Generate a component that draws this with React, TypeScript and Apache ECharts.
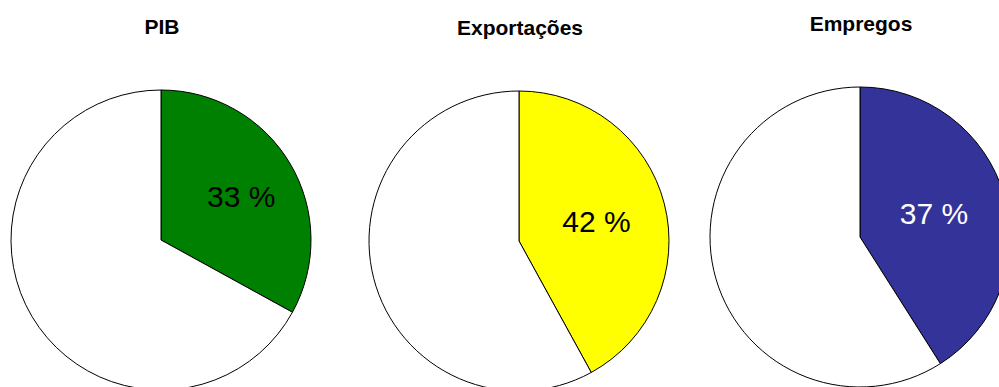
import React, { useEffect, useRef } from "react";
import * as echarts from "echarts";

const titles = ["PIB", "Exportações", "Empregos"];
const shareValues = [33, 42, 41];
const shareLabels = ["33 %", "42 %", "37 %"];
const sliceColors = ["#008000", "#FFFF00", "#333399"];
const labelColors = ["#000000", "#000000", "#FFFFFF"];

const centers: [number, number][] = [
  [161, 240],
  [519, 241],
  [860, 237],
];
const titleYs = [26, 27, 23];
const labelShift = [
  [13, -4],
  [2, 0],
  [-1, -2],
];

export default function App() {
  const ref = useRef<HTMLDivElement>(null);
  useEffect(() => {
    document.body.style.margin = "0";
    const chart = echarts.init(ref.current!, undefined, { renderer: "svg" });
    const font = "'Liberation Sans', Arial, sans-serif";
    const series = shareValues.map((v, i) => ({
      type: "pie",
      center: centers[i],
      radius: 150,
      startAngle: 90,
      clockwise: true,
      silent: true,
      avoidLabelOverlap: false,
      labelLine: { show: false },
      labelLayout: { dx: labelShift[i][0], dy: labelShift[i][1] },
      itemStyle: { borderColor: "#000", borderWidth: 1 },
      emphasis: { disabled: true },
      data: [
        {
          name: titles[i],
          value: v,
          itemStyle: { color: sliceColors[i] },
          label: {
            show: true,
            position: "inside",
            formatter: shareLabels[i],
            fontSize: 30,
            fontFamily: font,
            color: labelColors[i],
          },
        },
        {
          name: "resto",
          value: 100 - v,
          itemStyle: { color: "#FFFFFF" },
          label: { show: false },
        },
      ],
    }));
    chart.setOption({
      animation: false,
      backgroundColor: "#FFFFFF",
      graphic: titles.map((t, i) => ({
        type: "text",
        x: centers[i][0] + 1,
        y: titleYs[i],
        style: {
          text: t,
          font: `bold 21px ${font}`,
          fill: "#000",
          align: "center",
          verticalAlign: "middle",
        },
      })),
      series,
    });
    return () => chart.dispose();
  }, []);
  return <div ref={ref} style={{ width: 999, height: 387 }} />;
}
